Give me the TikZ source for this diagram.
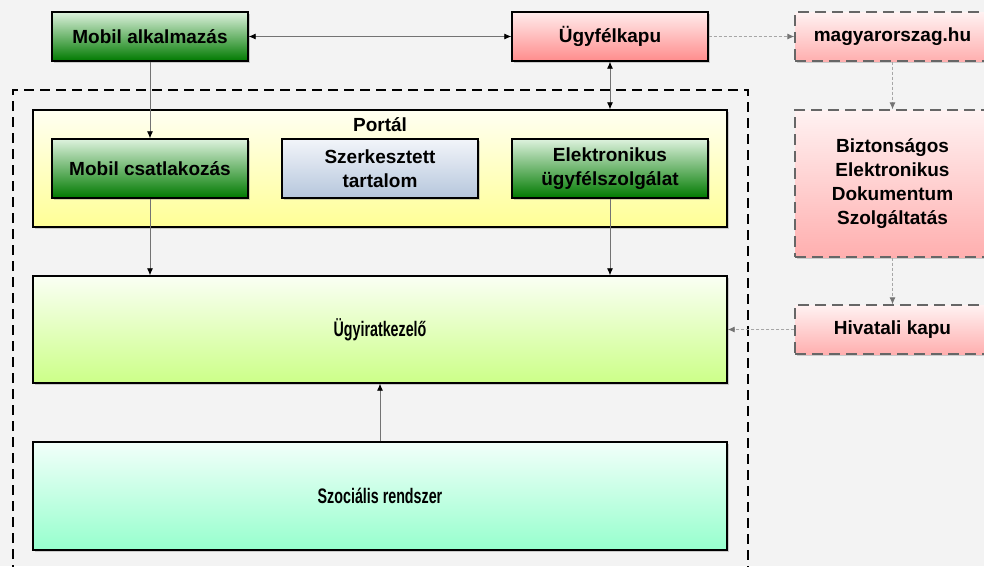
\documentclass[tikz,border=0pt]{standalone}
\usepackage{fontspec}
\setmainfont{Liberation Sans}
\newfontfamily\narrowfont[FakeStretch=0.68]{Liberation Sans}
\usetikzlibrary{shadows,arrows.meta,positioning}
\definecolor{bggray}{RGB}{243,243,243}
\definecolor{dkgreen}{RGB}{0,122,0}
\definecolor{ltgreen}{RGB}{222,242,222}
\definecolor{kapured}{RGB}{255,140,140}
\definecolor{kapulight}{RGB}{255,236,236}
\definecolor{pinkdark}{RGB}{255,175,175}
\definecolor{pinklight}{RGB}{255,242,242}
\definecolor{bluegray}{RGB}{182,198,220}
\definecolor{bluelight}{RGB}{242,245,250}
\definecolor{portalyel}{RGB}{255,255,150}
\definecolor{portaltop}{RGB}{255,255,242}
\definecolor{iratgreen}{RGB}{204,255,136}
\definecolor{irattop}{RGB}{250,255,244}
\definecolor{szocmint}{RGB}{150,255,205}
\definecolor{szoctop}{RGB}{242,255,250}
\colorlet{linegray}{black!55}
\tikzstyle{box}=[draw=black,line width=1.4pt,align=center,inner sep=2pt,
  font=\fontsize{19}{24}\selectfont\bfseries,
  drop shadow={shadow xshift=2pt,shadow yshift=-2pt,opacity=0.35}]
\tikzstyle{greenbox}=[box,top color=ltgreen,bottom color=dkgreen,
  minimum width=196pt,minimum height=59pt]
\tikzstyle{extbox}=[box,draw=black!60,dashed,dash pattern=on 11pt off 6pt,
  top color=pinklight,bottom color=pinkdark,minimum width=195pt]
\tikzstyle{arr}=[draw=linegray,line width=0.8pt,-{Latex[length=7pt,width=6pt,black]}]
\tikzstyle{biarr}=[arr,{Latex[length=7pt,width=6pt,black]}-{Latex[length=7pt,width=6pt,black]}]
\tikzstyle{extarr}=[draw=black!35,line width=0.9pt,dashed,dash pattern=on 3pt off 2pt,
  -{Latex[length=7pt,width=6pt,black!55]}]

\begin{document}
\begin{tikzpicture}[x=1pt,y=-1pt]
        \fill[bggray] (0,0) rectangle (984,566);
        \useasboundingbox (0,0) rectangle (984,566);

        % outer frame
        \draw[line width=1.6pt,dashed,dash pattern=on 10pt off 6pt] (13,575) |- (748,90) -- (748,575);

        \node[greenbox,minimum height=49pt] at (150,36.5) (mobilapp) {Mobil alkalmazás};
        \node[box,top color=kapulight,bottom color=kapured,minimum width=196pt,
          minimum height=49pt] at (610,36.5) (kapu) {Ügyfélkapu};

        \node[box,top color=portaltop,bottom color=portalyel,minimum width=694pt,
          minimum height=117pt] at (380,168.5) (portal) {};
        \node at (380,125) (portallabel) {\fontsize{19}{24}\selectfont\bfseries Portál};
        \node[greenbox] at (150,168.5) (mobilcs) {Mobil csatlakozás};
        \node[box,top color=bluelight,bottom color=bluegray,minimum width=196pt,
          minimum height=59pt] at (380,168.5) (szerk) {Szerkesztett\\tartalom};
        \node[greenbox] at (610,168.5) (elektr) {Elektronikus\\ügyfélszolgálat};

        \node[box,top color=irattop,bottom color=iratgreen,minimum width=694pt,
          minimum height=107pt,font=\fontsize{21}{24}\narrowfont\bfseries] at (380,329.5) (irat) {Ügyiratkezelő};
        \node[box,top color=szoctop,bottom color=szocmint,minimum width=694pt,
          minimum height=108pt,font=\fontsize{21}{24}\narrowfont\bfseries] at (380,496) (szoc) {Szociális rendszer};

        \node[extbox,minimum height=49pt] at (892.5,36.5) (magyar) {magyarorszag.hu};
        \node[extbox,minimum height=147pt] at (892.5,183.5) (bizt) {Biztonságos\\Elektronikus\\Dokumentum\\Szolgáltatás};
        \node[extbox,minimum height=49pt] at (892.5,329.5) (hivatali) {Hivatali kapu};

        \draw[biarr] (mobilapp) -- (kapu);
        \draw[biarr] (kapu) -- (kapu |- portal.north);
        \draw[arr] (mobilapp) -- (mobilcs);
        \draw[arr] (mobilcs) -- (mobilcs |- irat.north);
        \draw[arr] (elektr) -- (elektr |- irat.north);
        \draw[arr] (szoc) -- (irat);

        \draw[extarr] (kapu) -- (magyar);
        \draw[extarr] (magyar) -- (bizt);
        \draw[extarr] (bizt) -- (hivatali);
        \draw[extarr] (hivatali) -- (irat);
      \end{tikzpicture}
\end{document}
